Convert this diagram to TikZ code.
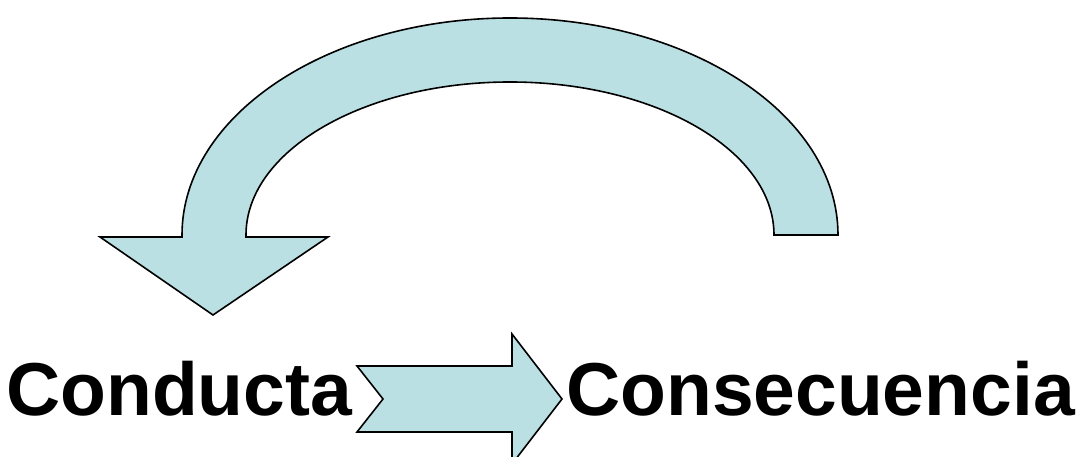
\documentclass[tikz,border=0pt]{standalone}
\usepackage{fontspec}
\setmainfont{Liberation Sans}
\definecolor{arrowfill}{RGB}{186,224,227}
\begin{document}
\begin{tikzpicture}[x=1pt,y=1pt,
  arrowshape/.style={fill=arrowfill,draw=black,line width=1.6pt,line join=miter},
  label/.style={inner sep=0pt,anchor=base west,font=\fontsize{75}{82}\selectfont\bfseries}]
\useasboundingbox (0,0) rectangle (1078,457);
% curved feedback arrow
\draw[arrowshape] (246,222) arc[start angle=180,end angle=0,x radius=264pt,y radius=153pt]
  -- (838,222) arc[start angle=0,end angle=180,x radius=328pt,y radius=217pt]
  -- (182,220) -- (100,220) -- (213,142) -- (328,220) -- (246,220) -- cycle;
% straight notched arrow
\draw[arrowshape] (357,91) -- (512,91) -- (512,123) -- (562,58) -- (512,-7) -- (512,25)
  -- (357,25) -- (383,58) -- cycle;
\node[label] (conducta) at (6,41) {Conducta};
\node[label] (consecuencia) at (566,41) {Consecuencia};
\end{tikzpicture}
\end{document}
